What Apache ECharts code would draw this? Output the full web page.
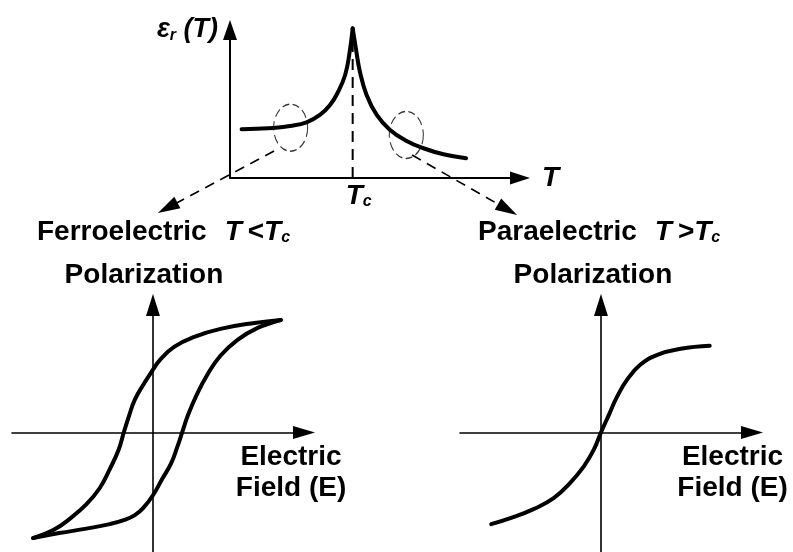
<!DOCTYPE html>
<html>
<head>
<meta charset="utf-8">
<script src="https://cdn.jsdelivr.net/npm/echarts@6/dist/echarts.min.js"></script>
<style>
  html, body { margin: 0; padding: 0; background: #fff; }
  #chart { width: 793px; height: 552px; }
</style>
</head>
<body>
<div id="chart"></div>
<script>
// Relative permittivity against temperature (arbitrary units), peaking at the Curie point
const curieT = 42.3;
const permBelowTc = [[4.0, 33.0], [9.2, 33.3], [14.9, 33.8], [20.7, 35.1], [26.4, 37.6], [31.0, 42.6],
  [34.5, 49.3], [37.3, 58.3], [39.7, 69.6], [41.1, 83.1], [42.3, 101.1]];
const permAboveTc = [[42.3, 101.1], [43.4, 87.6], [44.8, 71.8], [47.1, 56.1], [50.6, 42.6], [55.2, 32.4],
  [60.9, 25.0], [66.7, 20.1], [73.6, 16.0], [81.4, 13.3]];
const tcMarker = [[curieT, 0], [curieT, 101.1]];

// Dashed rings around the two regimes and the pointers leading to each panel
const regimeRings = [[20.9, 34.0], [60.8, 29.1]];
const pointerFerro = [[15.2, 18.2], [-21.5, -20.1]];
const pointerPara = [[62.8, 15.5], [95.7, -21.3]];

// Ferroelectric hysteresis loop, polarization P against field E
const loopDown = [[1.27, 1.13], [1.01, 1.10], [0.67, 1.04], [0.41, 0.96], [0.21, 0.86], [0.07, 0.73],
  [0.00, 0.63], [-0.09, 0.49], [-0.18, 0.33], [-0.24, 0.16], [-0.29, 0.00], [-0.34, -0.17],
  [-0.43, -0.37], [-0.53, -0.56], [-0.66, -0.72], [-0.83, -0.87], [-0.99, -0.98], [-1.19, -1.06]];
const loopUp = [[-1.19, -1.06], [-0.93, -1.01], [-0.66, -0.965], [-0.43, -0.92], [-0.29, -0.88],
  [-0.18, -0.83], [-0.09, -0.75], [0.00, -0.63], [0.09, -0.47], [0.18, -0.31], [0.24, -0.15],
  [0.29, 0.00], [0.35, 0.18], [0.44, 0.39], [0.54, 0.58], [0.67, 0.77], [0.84, 0.93], [1.04, 1.05],
  [1.27, 1.13]];

// Paraelectric response, single-valued through the origin
const paraCurve = [[-1.09, -0.92], [-0.87, -0.85], [-0.67, -0.77], [-0.47, -0.66], [-0.31, -0.51],
  [-0.17, -0.34], [-0.07, -0.17], [0, 0], [0.08, 0.18], [0.16, 0.36], [0.26, 0.53], [0.39, 0.68],
  [0.56, 0.78], [0.79, 0.84], [1.08, 0.87]];

const FONT = "'Liberation Sans', Arial, Helvetica, sans-serif";
const SIZE = 28;
const richStyles = {
  n: { fontFamily: FONT, fontSize: SIZE, fontWeight: 'bold', color: '#000', lineHeight: 32 },
  g: { fontFamily: FONT, fontSize: SIZE, fontWeight: 'bold', color: '#000', lineHeight: 32, padding: [0, 0, 0, 6] },
  t: { fontFamily: FONT, fontSize: SIZE, fontWeight: 'bold', fontStyle: 'italic', color: '#000', lineHeight: 32, padding: [0, 0, 0, 18] },
  i: { fontFamily: FONT, fontSize: SIZE, fontWeight: 'bold', fontStyle: 'italic', color: '#000', lineHeight: 32 },
  s: { fontFamily: FONT, fontSize: 16, fontWeight: 'bold', fontStyle: 'italic', color: '#000', padding: [12, 0, 0, 0] }
};

function hiddenBits() {
  return { axisTick: { show: false }, splitLine: { show: false }, axisLabel: { show: false } };
}

function fieldAxis(gridIndex, namePadRight) {
  return Object.assign(hiddenBits(), {
    type: 'value', gridIndex: gridIndex, min: -1.4, max: 1.5,
    axisLine: { onZero: true, symbol: ['none', 'triangle'], symbolSize: [13, 22],
      lineStyle: { color: '#000', width: 1.6 } },
    name: 'Electric\nField (E)', nameLocation: 'end', nameGap: 0,
    nameTextStyle: { fontFamily: FONT, fontSize: SIZE, fontWeight: 'bold', color: '#000',
      align: 'center', verticalAlign: 'top', lineHeight: 31, padding: [9, namePadRight, 0, 0] }
  });
}

function polAxis(gridIndex, namePadRight) {
  return Object.assign(hiddenBits(), {
    type: 'value', gridIndex: gridIndex, min: -1.2, max: 1.28,
    axisLine: { onZero: true, symbol: ['none', 'triangle'], symbolSize: [14, 22],
      lineStyle: { color: '#000', width: 1.6 } },
    name: 'Polarization', nameLocation: 'end', nameGap: 30,
    nameTextStyle: { fontFamily: FONT, fontSize: SIZE, fontWeight: 'bold', color: '#000',
      align: 'center', verticalAlign: 'middle', padding: [0, namePadRight, 0, 0] }
  });
}

function curve(data, xi, yi) {
  return {
    type: 'line', xAxisIndex: xi, yAxisIndex: yi, data: data,
    smooth: 0.45, showSymbol: false, symbol: 'none', clip: false, silent: true,
    lineStyle: { color: '#000', width: 4, cap: 'round', join: 'round' }, z: 5
  };
}

const chart = echarts.init(document.getElementById('chart'), null, { renderer: 'canvas' });
chart.setOption({
  animation: false,
  backgroundColor: '#fff',
  textStyle: { fontFamily: FONT, color: '#000' },
  title: [
    { text: '{n|Ferroelectric}{t|T}{g|<}{i|T}{s|c}', left: 37, top: 216, padding: 0,
      textStyle: { rich: richStyles } },
    { text: '{n|Paraelectric}{t|T}{g|>}{i|T}{s|c}', left: 478, top: 216, padding: 0,
      textStyle: { rich: richStyles } }
  ],
  grid: [
    { left: 230, top: 30, right: 273, bottom: 374, outerBoundsMode: 'none' },
    { left: 12, top: 305, right: 489, bottom: 0, outerBoundsMode: 'none' },
    { left: 460, top: 305, right: 41, bottom: 0, outerBoundsMode: 'none' }
  ],
  xAxis: [
    {
      type: 'value', gridIndex: 0, min: 0, max: 100,
      axisTick: { show: false }, splitLine: { show: false },
      axisLine: { symbol: ['none', 'triangle'], symbolSize: [13, 20], lineStyle: { color: '#000', width: 2 } },
      axisLabel: {
        customValues: [curieT], margin: 2, padding: [0, 0, 0, 12],
        formatter: function () { return '{i|T}{s|c}'; },
        rich: richStyles
      },
      name: 'T', nameLocation: 'end', nameGap: 22,
      nameTextStyle: { fontFamily: FONT, fontSize: SIZE, fontWeight: 'bold', fontStyle: 'italic', color: '#000',
        align: 'left', verticalAlign: 'middle', padding: [8, 0, 0, 0] }
    },
    fieldAxis(1, 26),
    fieldAxis(2, 39)
  ],
  yAxis: [
    Object.assign(hiddenBits(), {
      type: 'value', gridIndex: 0, min: 0, max: 100,
      axisLine: { symbol: ['none', 'triangle'], symbolSize: [14, 20], lineStyle: { color: '#000', width: 2 } },
      name: '{i|ε}{s|r}{i| (T)}', nameLocation: 'end', nameGap: 0,
      nameTextStyle: { align: 'right', verticalAlign: 'middle', padding: [0, 12, 0, 0],
        rich: {
          i: { fontFamily: FONT, fontSize: 27, fontWeight: 'bold', fontStyle: 'italic', color: '#000', lineHeight: 30 },
          s: { fontFamily: FONT, fontSize: 16, fontWeight: 'bold', fontStyle: 'italic', color: '#000', padding: [11, 0, 0, 0] }
        } }
    }),
    polAxis(1, 18),
    polAxis(2, 16)
  ],
  series: [
    {
      type: 'line', xAxisIndex: 0, yAxisIndex: 0, data: tcMarker,
      showSymbol: false, symbol: 'none', clip: false, silent: true,
      lineStyle: { color: '#000', width: 2, type: [11, 7] }, z: 2
    },
    curve(permBelowTc, 0, 0),
    curve(permAboveTc, 0, 0),
    {
      type: 'scatter', xAxisIndex: 0, yAxisIndex: 0, data: regimeRings,
      symbol: 'circle', symbolSize: [34, 47], clip: false, silent: true,
      itemStyle: { color: 'rgba(0,0,0,0)', borderColor: '#000', borderWidth: 1.2, borderType: [8, 4] }, z: 3
    },
    {
      type: 'lines', coordinateSystem: 'cartesian2d', xAxisIndex: 0, yAxisIndex: 0,
      clip: false, silent: true, polyline: false,
      symbol: ['none', 'triangle'], symbolSize: [1, [13, 22]],
      lineStyle: { color: '#000', width: 1.6, type: [10, 7], opacity: 1, curveness: 0 },
      itemStyle: { color: '#000' },
      data: [{ coords: pointerFerro }, { coords: pointerPara }], z: 2
    },
    curve(loopDown, 1, 1),
    curve(loopUp, 1, 1),
    curve(paraCurve, 2, 2)
  ]
});
</script>
</body>
</html>
